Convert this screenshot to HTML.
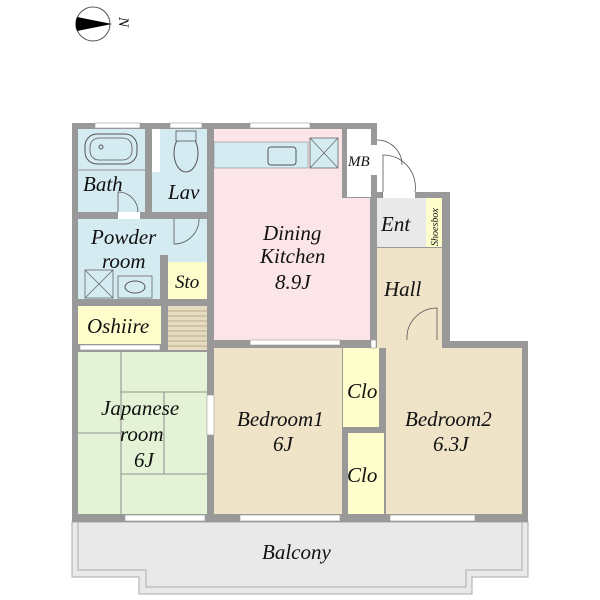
<!DOCTYPE html>
<html><head><meta charset="utf-8"><style>
html,body{margin:0;padding:0;background:#fff;}
svg{display:block;}
text{font-family:"Liberation Serif",serif;font-style:italic;fill:#111;}
</style></head><body>
<svg width="600" height="600" viewBox="0 0 600 600" xmlns="http://www.w3.org/2000/svg">
<circle cx="93" cy="24" r="17" fill="#fff" stroke="#555" stroke-width="1"/>
<path d="M77 17 L112 24 L77 31 Q74 24 77 17Z" fill="#000"/>
<text x="0" y="0" font-size="15" font-style="normal" transform="translate(119,17) rotate(90)">N</text>

<path d="M72 522 L528 522 L528 577 L472 577 L472 594 L139 594 L139 577 L72 577Z" fill="#e9e9e9" stroke="#aaa" stroke-width="1"/>
<path d="M78 522 L522 522 L522 570 L466 570 L466 587 L146 587 L146 570 L78 570Z" fill="none" stroke="#aaa" stroke-width="1"/>

<path d="M72 123 L377 123 L377 192 L450 192 L450 341 L528 341 L528 522 L72 522Z" fill="#999"/>

<rect x="78" y="129" width="67" height="83" fill="#d5ebf2"/>
<rect x="152" y="129" width="55" height="83" fill="#d5ebf2"/>
<rect x="152" y="129" width="8" height="43" fill="#fff"/>
<rect x="78" y="219" width="129" height="80" fill="#d5ebf2"/>
<rect x="160" y="255" width="8" height="44" fill="#999"/>
<rect x="168" y="262" width="39" height="37" fill="#fefecc"/>
<rect x="78" y="306" width="83" height="38" fill="#fefecc"/>
<rect x="168" y="306" width="39" height="44" fill="#e6dcc2"/>
<g stroke="#b9ab85" stroke-width="1">
<line x1="168" y1="311" x2="207" y2="311"/><line x1="168" y1="316" x2="207" y2="316"/><line x1="168" y1="321" x2="207" y2="321"/><line x1="168" y1="326" x2="207" y2="326"/><line x1="168" y1="331" x2="207" y2="331"/><line x1="168" y1="336" x2="207" y2="336"/><line x1="168" y1="341" x2="207" y2="341"/><line x1="168" y1="346" x2="207" y2="346"/>
</g>
<path d="M214 129 L342 129 L342 198 L370 198 L370 340 L214 340Z" fill="#fce5e8"/>
<rect x="214" y="142" width="94" height="26" fill="#d5ebf2" stroke="#888" stroke-width="0.6"/>
<rect x="310" y="138" width="28" height="30" fill="#d5ebf2" stroke="#666" stroke-width="0.8"/>
<path d="M310 138 L338 168 M338 138 L310 168" stroke="#666" stroke-width="0.8"/>
<rect x="268" y="147" width="28" height="18" rx="3" fill="none" stroke="#555" stroke-width="1"/>
<rect x="347" y="129" width="24" height="68" fill="#fff"/>
<rect x="377" y="198" width="49" height="49" fill="#e9e9e9"/>
<rect x="426" y="198" width="16" height="49" fill="#fefecc"/>
<rect x="377" y="248" width="65" height="100" fill="#efe3c8"/>
<rect x="78" y="352" width="129" height="162" fill="#e4f2d6"/>
<g stroke="#777" stroke-width="0.8" fill="none">
<line x1="121" y1="352" x2="121" y2="514"/><line x1="121" y1="392" x2="207" y2="392"/><line x1="164" y1="392" x2="164" y2="474"/><line x1="78" y1="433" x2="121" y2="433"/><line x1="121" y1="474" x2="207" y2="474"/>
</g>
<rect x="214" y="348" width="128" height="166" fill="#efe3c8"/>
<rect x="343" y="348" width="36" height="79" fill="#fefecc"/>
<rect x="348" y="433" width="36" height="81" fill="#fefecc"/>
<rect x="386" y="348" width="136" height="166" fill="#efe3c8"/>

<rect x="85" y="134" width="52" height="30" rx="12" fill="#d5ebf2" stroke="#555" stroke-width="1"/>
<rect x="90" y="138" width="42" height="22" rx="9" fill="none" stroke="#555" stroke-width="0.8"/>
<circle cx="101" cy="147" r="2" fill="none" stroke="#555"/>
<line x1="78" y1="170" x2="145" y2="170" stroke="#777" stroke-width="0.8"/>
<ellipse cx="186" cy="153" rx="12" ry="19" fill="#d5ebf2" stroke="#555" stroke-width="1"/>
<rect x="176" y="131" width="20" height="10" fill="#d5ebf2" stroke="#555" stroke-width="0.8"/>
<rect x="85" y="270" width="28" height="28" fill="#d5ebf2" stroke="#666" stroke-width="0.8"/>
<path d="M85 270 L113 298 M113 270 L85 298" stroke="#666" stroke-width="0.8"/>
<rect x="118" y="276" width="34" height="22" fill="#d5ebf2" stroke="#666" stroke-width="0.8"/>
<ellipse cx="135" cy="287" rx="10" ry="6" fill="none" stroke="#555"/>

<g fill="#fff" stroke="#999" stroke-width="0.6">
<rect x="95" y="123" width="45" height="5"/>
<rect x="170" y="123" width="32" height="5"/>
<rect x="250" y="123" width="60" height="5"/>
<rect x="250" y="340" width="90" height="5"/>
<rect x="80" y="345" width="80" height="5"/>
<rect x="125" y="515" width="80" height="6"/>
<rect x="240" y="515" width="100" height="6"/>
<rect x="390" y="515" width="85" height="6"/>
<rect x="207" y="395" width="7" height="40"/>
<rect x="371" y="340" width="5" height="8"/>
</g>
<g fill="none" stroke="#555" stroke-width="0.8">
<rect x="118" y="212" width="22" height="7" fill="#fff" stroke="none"/>
<path d="M118 212 L118 192 A20 20 0 0 1 138 212"/>
<path d="M174 219 L174 244 A25 25 0 0 0 199 219"/>
<rect x="371" y="145" width="6" height="30" fill="#fff" stroke="none"/>
<path d="M377 140 A25 25 0 0 1 402 165 M383 198 L383 155 A32 32 0 0 1 415 192"/>
<rect x="383" y="192" width="32" height="6" fill="#fff" stroke="none"/>
<rect x="415" y="340" width="27" height="8" fill="#efe3c8" stroke="none"/>
<path d="M437 340 L437 308 A30 30 0 0 0 407 340"/>
</g>

<text x="83" y="191" font-size="21">Bath</text>
<text x="168" y="199" font-size="21">Lav</text>
<text x="91" y="244" font-size="21">Powder</text>
<text x="102" y="268" font-size="21">room</text>
<text x="175" y="288" font-size="19">Sto</text>
<text x="87" y="333" font-size="21">Oshiire</text>
<text x="263" y="240" font-size="21">Dining</text>
<text x="260" y="263" font-size="21">Kitchen</text>
<text x="275" y="289" font-size="21">8.9J</text>
<text x="348" y="166" font-size="15">MB</text>
<text x="381" y="231" font-size="21">Ent</text>
<text x="0" y="0" font-size="10" transform="translate(438,246) rotate(-90)">Shoesbox</text>
<text x="384" y="296" font-size="21">Hall</text>
<text x="101" y="415" font-size="21">Japanese</text>
<text x="120" y="441" font-size="21">room</text>
<text x="134" y="467" font-size="21">6J</text>
<text x="237" y="426" font-size="21">Bedroom1</text>
<text x="273" y="451" font-size="21">6J</text>
<text x="347" y="398" font-size="21">Clo</text>
<text x="347" y="482" font-size="21">Clo</text>
<text x="405" y="426" font-size="21">Bedroom2</text>
<text x="433" y="451" font-size="21">6.3J</text>
<text x="262" y="559" font-size="21">Balcony</text>
</svg>
</body></html>
